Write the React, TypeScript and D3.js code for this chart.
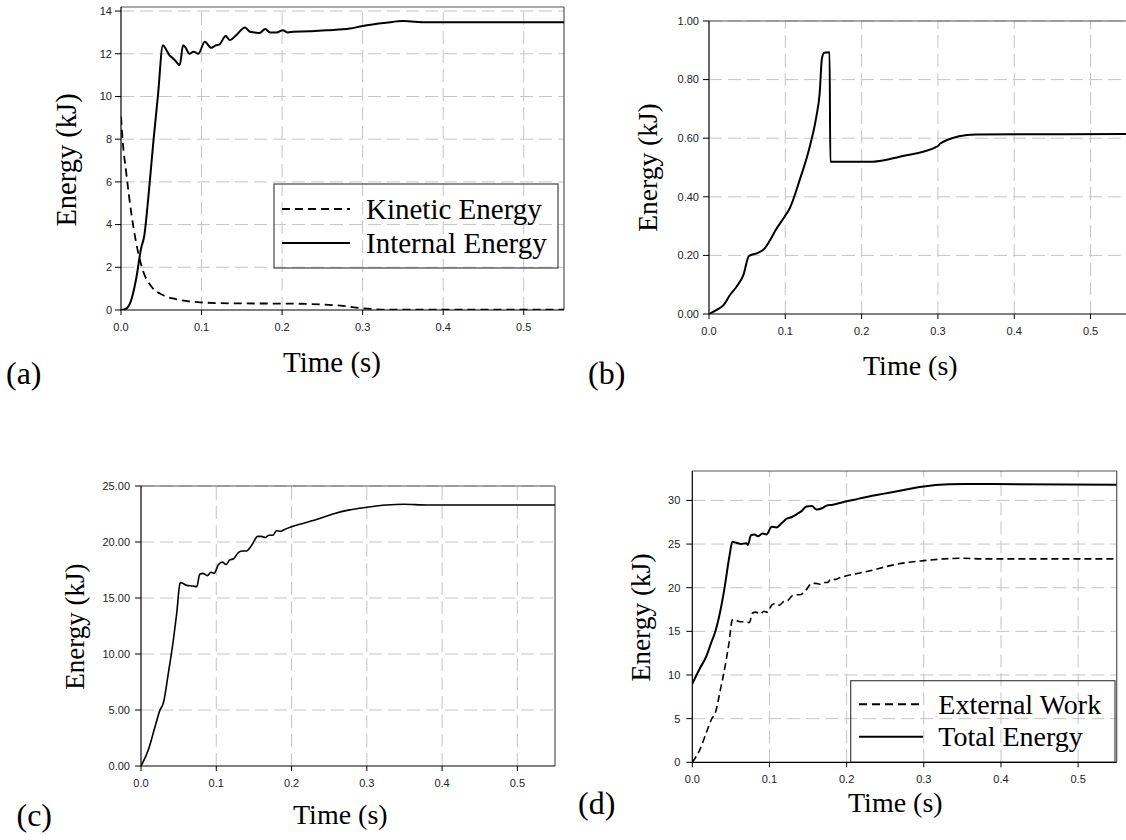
import React from "react";
import * as d3 from "d3";

// ---------- data ----------
const timeTicks = [0, 0.1, 0.2, 0.3, 0.4, 0.5];
const aYTicks = [0, 2, 4, 6, 8, 10, 12, 14];
const bYTicks = [0, 0.2, 0.4, 0.6, 0.8, 1.0];
const cYTicks = [0, 5, 10, 15, 20, 25];
const dYTicks = [0, 5, 10, 15, 20, 25, 30];

const internalEnergy: [number, number][] = [
  [0, 0], [0.007, 0.08], [0.012, 0.39], [0.019, 1.5], [0.025, 2.9], [0.029, 3.5], [0.034, 5.3],
  [0.04, 7.8], [0.046, 10.1], [0.052, 12.4], [0.056, 12.2], [0.06, 11.94], [0.064, 11.8],
  [0.068, 11.65], [0.073, 11.47], [0.077, 12.4], [0.08, 12.3], [0.085, 12.0], [0.09, 12.1],
  [0.096, 12.0], [0.104, 12.56], [0.112, 12.28], [0.118, 12.4], [0.122, 12.43], [0.13, 12.83],
  [0.135, 12.64], [0.143, 12.87], [0.154, 13.23], [0.16, 13.03], [0.166, 13.0], [0.172, 12.97],
  [0.179, 13.16], [0.185, 13.0], [0.193, 13.0], [0.201, 13.1], [0.207, 13.0], [0.214, 13.03],
  [0.234, 13.05], [0.255, 13.1], [0.284, 13.18], [0.3, 13.3], [0.329, 13.45], [0.35, 13.53],
  [0.378, 13.48], [0.42, 13.47], [0.55, 13.47],
];

const kineticEnergy: [number, number][] = [
  [0, 9.05], [0.002, 7.96], [0.0066, 6.4], [0.0128, 4.53], [0.019, 3.12], [0.027, 1.87],
  [0.038, 1.09], [0.052, 0.7], [0.069, 0.5], [0.098, 0.36], [0.139, 0.31], [0.2, 0.3],
  [0.234, 0.28], [0.2756, 0.19], [0.3, 0.08], [0.33, 0.02], [0.55, 0.02],
];

const panelBEnergy: [number, number][] = [
  [0, 0], [0.01, 0.014], [0.019, 0.03], [0.0275, 0.065], [0.036, 0.093], [0.045, 0.133],
  [0.0524, 0.198], [0.0625, 0.207], [0.073, 0.224], [0.0795, 0.25], [0.088, 0.289],
  [0.099, 0.332], [0.1057, 0.36], [0.1188, 0.457], [0.132, 0.571], [0.1406, 0.673],
  [0.145, 0.752], [0.148, 0.873], [0.151, 0.892], [0.158, 0.893], [0.159, 0.52], [0.215, 0.52],
  [0.25, 0.537], [0.3, 0.573], [0.303, 0.582], [0.338, 0.611], [0.35, 0.613], [0.55, 0.614],
];

const externalWork: [number, number][] = [
  [0, 0], [0.0097, 1.43], [0.0186, 3.5], [0.0252, 4.99], [0.0296, 5.6], [0.0363, 8.27],
  [0.043, 11.25], [0.0474, 13.6], [0.0518, 16.3], [0.0531, 16.37], [0.0606, 16.13],
  [0.0695, 16.07], [0.074, 16.0], [0.078, 17.1], [0.082, 17.2], [0.088, 17.0], [0.093, 17.3],
  [0.097, 17.2], [0.103, 18.0], [0.108, 18.2], [0.113, 18.0], [0.118, 18.4], [0.123, 18.5],
  [0.13, 19.1], [0.135, 19.2], [0.14, 19.2], [0.147, 19.7], [0.155, 20.5], [0.16, 20.5],
  [0.165, 20.4], [0.17, 20.6], [0.175, 20.6], [0.18, 21.0], [0.186, 20.95], [0.19, 21.1],
  [0.2, 21.37], [0.211, 21.58], [0.233, 22.0], [0.255, 22.5], [0.277, 22.87], [0.3, 23.1],
  [0.326, 23.3], [0.349, 23.37], [0.38, 23.3], [0.55, 23.3],
];

const totalEnergy: [number, number][] = [
  [0, 9.0], [0.0099, 10.77], [0.018, 12.1], [0.0249, 13.8], [0.029, 14.75], [0.0357, 17.07],
  [0.042, 20.1], [0.048, 23.55], [0.052, 25.27], [0.057, 25.15], [0.063, 25.0], [0.07, 25.1],
  [0.072, 24.9], [0.076, 26.0], [0.0806, 26.1], [0.085, 25.9], [0.091, 26.2], [0.096, 26.1],
  [0.103, 26.99], [0.109, 26.9], [0.116, 27.4], [0.122, 27.9], [0.129, 28.1], [0.135, 28.4],
  [0.142, 28.8], [0.148, 29.3], [0.155, 29.35], [0.161, 28.95], [0.168, 29.1], [0.174, 29.4],
  [0.182, 29.5], [0.195, 29.8], [0.208, 30.05], [0.226, 30.4], [0.247, 30.75], [0.269, 31.1],
  [0.289, 31.45], [0.3, 31.6], [0.332, 31.84], [0.354, 31.88], [0.55, 31.8],
];

const legendA = ["Kinetic Energy", "Internal Energy"];
const legendD = ["External Work", "Total Energy"];

// ---------- rendering ----------
const SERIF = "'Liberation Serif', 'Times New Roman', serif";
const SANS = "'Liberation Sans', Arial, sans-serif";

type Series = { data: [number, number][]; dash?: string; width: number };
type Legend = {
  x: number; y: number; w: number; h: number;
  lineX0: number; lineX1: number; lineYs: number[]; textX: number; textYs: number[];
  fontSize: number; labels: string[]; dashes: (string | undefined)[];
};
type Cfg = {
  id: string; left: number; right: number; bottom: number; top: number; yMax: number;
  yTicks: number[]; yFmt: (v: number) => string; gridTop: number;
  series: Series[]; rightBorder: boolean; yLabelGap: number;
  yTitle: { x: number; y: number; fs: number };
  xTitle: { x: number; y: number; fs: number };
  tag: { text: string; x: number; y: number; fs: number };
  legend?: Legend;
};

function Panel({ cfg }: { cfg: Cfg }) {
  const x = d3.scaleLinear().domain([0, 0.55]).range([cfg.left, cfg.right]);
  const y = d3.scaleLinear().domain([0, cfg.yMax]).range([cfg.bottom, cfg.top]);
  const line = d3
    .line<[number, number]>()
    .x((d) => x(d[0]))
    .y((d) => y(d[1]))
    .curve(d3.curveMonotoneX);
  const xf = d3.format(".1f");
  const gridColor = "#c4c4c4";
  const gridDash = "13,6";
  return (
    <g>
      <defs>
        <clipPath id={"clip-" + cfg.id}>
          <rect x={cfg.left} y={cfg.top - 2} width={cfg.right - cfg.left} height={cfg.bottom - cfg.top + 2} />
        </clipPath>
      </defs>
      {/* grid */}
      {cfg.yTicks.filter((v) => v > 0).map((v) => (
        <line key={"gy" + v} x1={cfg.left} x2={cfg.right} y1={y(v)} y2={y(v)}
          stroke={gridColor} strokeWidth={1} strokeDasharray={gridDash} />
      ))}
      {timeTicks.filter((v) => v > 0).map((v) => (
        <line key={"gx" + v} x1={x(v)} x2={x(v)} y1={cfg.bottom} y2={cfg.gridTop}
          stroke={gridColor} strokeWidth={1} strokeDasharray={gridDash} />
      ))}
      {/* frame */}
      <line x1={cfg.left} x2={cfg.right} y1={cfg.top} y2={cfg.top} stroke="#555" strokeWidth={1.2} />
      {cfg.rightBorder && (
        <line x1={cfg.right} x2={cfg.right} y1={cfg.top} y2={cfg.bottom} stroke="#555" strokeWidth={1.2} />
      )}
      {/* legend */}
      {cfg.legend && (
        <g>
          <rect x={cfg.legend.x} y={cfg.legend.y} width={cfg.legend.w} height={cfg.legend.h}
            fill="none" stroke="#444" strokeWidth={1.2} />
          {cfg.legend.labels.map((lab, i) => (
            <g key={lab}>
              <line x1={cfg.legend!.lineX0} x2={cfg.legend!.lineX1} y1={cfg.legend!.lineYs[i]} y2={cfg.legend!.lineYs[i]}
                stroke="#000" strokeWidth={2} strokeDasharray={cfg.legend!.dashes[i]} />
              <text x={cfg.legend!.textX} y={cfg.legend!.textYs[i]} fontFamily={SERIF}
                fontSize={cfg.legend!.fontSize} fill="#000">{lab}</text>
            </g>
          ))}
        </g>
      )}
      {/* curves */}
      <g clipPath={`url(#clip-${cfg.id})`}>
        {cfg.series.map((s, i) => (
          <path key={i} d={line(s.data) || ""} fill="none" stroke="#000"
            strokeWidth={s.width} strokeDasharray={s.dash} strokeLinejoin="round" />
        ))}
      </g>
      {/* axes */}
      <line x1={cfg.left} x2={cfg.left} y1={cfg.top} y2={cfg.bottom + 0.5} stroke="#000" strokeWidth={1.2} />
      <line x1={cfg.left} x2={cfg.right} y1={cfg.bottom} y2={cfg.bottom} stroke="#000" strokeWidth={1.2} />
      {cfg.yTicks.map((v) => (
        <g key={"yt" + v}>
          <line x1={cfg.left - 6} x2={cfg.left} y1={y(v)} y2={y(v)} stroke="#000" strokeWidth={1} />
          <text x={cfg.left - cfg.yLabelGap} y={y(v)} dy="0.35em" textAnchor="end"
            fontFamily={SANS} fontSize={11} fill="#222">{cfg.yFmt(v)}</text>
        </g>
      ))}
      {timeTicks.map((v) => (
        <g key={"xt" + v}>
          <line x1={x(v)} x2={x(v)} y1={cfg.bottom} y2={cfg.bottom + 5} stroke="#000" strokeWidth={1} />
          <text x={x(v)} y={cfg.bottom + 21} textAnchor="middle"
            fontFamily={SANS} fontSize={11} fill="#222">{xf(v)}</text>
        </g>
      ))}
      {/* titles */}
      <text transform={`translate(${cfg.yTitle.x},${cfg.yTitle.y}) rotate(-90)`} textAnchor="middle"
        fontFamily={SERIF} fontSize={cfg.yTitle.fs} fill="#000">Energy (kJ)</text>
      <text x={cfg.xTitle.x} y={cfg.xTitle.y} fontFamily={SERIF} fontSize={cfg.xTitle.fs} fill="#000">Time (s)</text>
      <text x={cfg.tag.x} y={cfg.tag.y} fontFamily={SERIF} fontSize={cfg.tag.fs} fill="#000">{cfg.tag.text}</text>
    </g>
  );
}

const f0 = d3.format("d");
const f2 = d3.format(".2f");

const panels: Cfg[] = [
  {
    id: "a", left: 121, right: 564, bottom: 310, top: 7, yMax: 14.19, yTicks: aYTicks, yFmt: f0,
    gridTop: 7, rightBorder: true, yLabelGap: 9,
    series: [
      { data: kineticEnergy, dash: "8,5", width: 1.8 },
      { data: internalEnergy, width: 2 },
    ],
    yTitle: { x: 76, y: 160, fs: 28.5 },
    xTitle: { x: 283, y: 372, fs: 29 },
    tag: { text: "(a)", x: 6, y: 384, fs: 32 },
    legend: {
      x: 274, y: 184, w: 284, h: 84, lineX0: 282, lineX1: 350, lineYs: [209, 243],
      textX: 366, textYs: [219, 253], fontSize: 29, labels: legendA, dashes: ["8,5", undefined],
    },
  },
  {
    id: "b", left: 709, right: 1128.7, bottom: 314, top: 21, yMax: 1.0, yTicks: bYTicks, yFmt: f2,
    gridTop: 21, rightBorder: false, yLabelGap: 10,
    series: [{ data: panelBEnergy, width: 2 }],
    yTitle: { x: 657, y: 167.5, fs: 27.5 },
    xTitle: { x: 863, y: 375, fs: 28 },
    tag: { text: "(b)", x: 588, y: 384, fs: 32 },
  },
  {
    id: "c", left: 141, right: 555, bottom: 766, top: 486, yMax: 25, yTicks: cYTicks, yFmt: f2,
    gridTop: 486, rightBorder: true, yLabelGap: 11,
    series: [{ data: externalWork, width: 1.6 }],
    yTitle: { x: 83.5, y: 626.7, fs: 27 },
    xTitle: { x: 293, y: 823.5, fs: 28 },
    tag: { text: "(c)", x: 16.5, y: 825.5, fs: 32 },
  },
  {
    id: "d", left: 692.3, right: 1116.7, bottom: 762.3, top: 471, yMax: 33.37, yTicks: dYTicks, yFmt: f0,
    gridTop: 471, rightBorder: true, yLabelGap: 12,
    series: [
      { data: externalWork, dash: "7,4", width: 1.6 },
      { data: totalEnergy, width: 2 },
    ],
    yTitle: { x: 650, y: 617.5, fs: 27.4 },
    xTitle: { x: 848, y: 812, fs: 28 },
    tag: { text: "(d)", x: 578, y: 814, fs: 32 },
    legend: {
      x: 850.7, y: 680.7, w: 264.3, h: 81.6, lineX0: 859, lineX1: 923, lineYs: [704.3, 736.7],
      textX: 938.3, textYs: [713.5, 745.5], fontSize: 28, labels: legendD, dashes: ["8,5", undefined],
    },
  },
];

export default function App() {
  return (
    <svg width={1126} height={840} viewBox="0 0 1126 840"
      style={{ position: "absolute", left: 0, top: 0, display: "block", background: "#fff" }}>
      <rect x={0} y={0} width={1126} height={840} fill="#fff" />
      {panels.map((p) => (
        <Panel key={p.id} cfg={p} />
      ))}
    </svg>
  );
}
